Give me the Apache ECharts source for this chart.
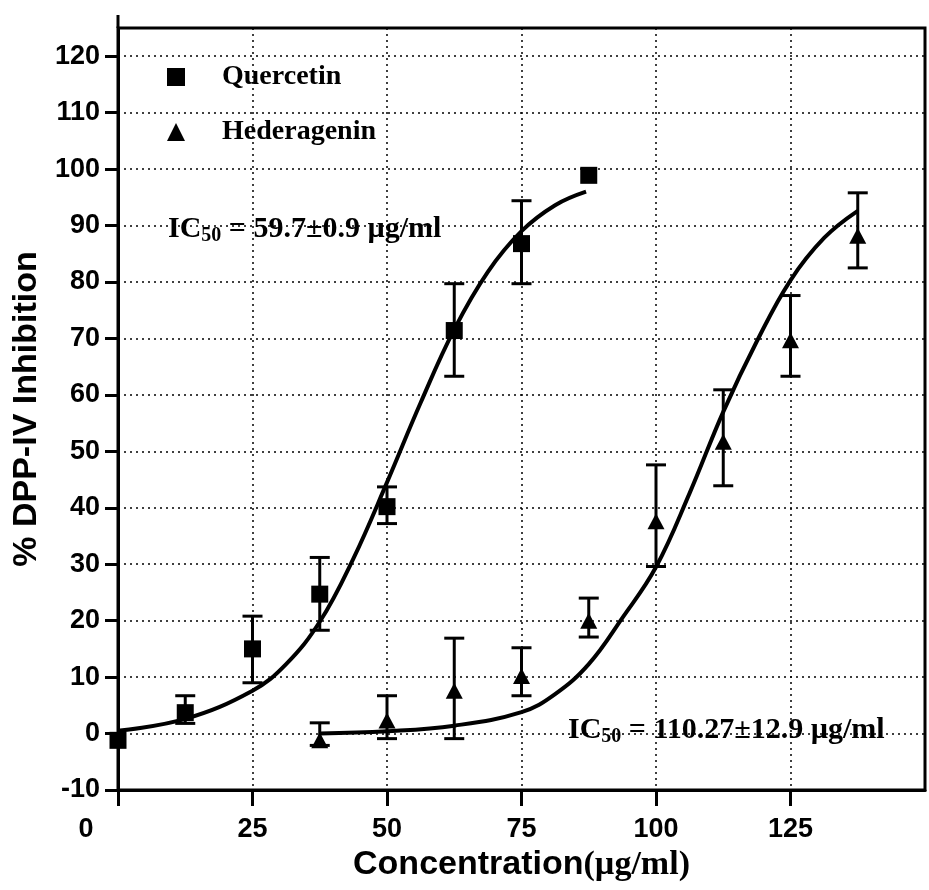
<!DOCTYPE html>
<html lang="en">
<head>
    <meta charset="UTF-8">
    <title>DPP-IV Inhibition</title>
    <script src="https://cdn.jsdelivr.net/npm/echarts@6/dist/echarts.min.js"></script>
    <style>
        html, body { margin: 0; padding: 0; background: #fff; }
        #main { width: 929px; height: 890px; }
    </style>
</head>
<body>
<div id="main"></div>
<script type="text/javascript">
    // tick labels
    var xTicks = [0, 25, 50, 75, 100, 125];
    var yTicks = [-10, 0, 10, 20, 30, 40, 50, 60, 70, 80, 90, 100, 110, 120];

    // measured points (mean, low/high of the error bar)
    var quercetinConc = [0, 12.5, 25, 37.5, 50, 62.5, 75, 87.5];
    var quercetinInhib = [-1.2, 3.7, 15.0, 24.7, 40.2, 71.4, 86.8, 98.9];
    var quercetinLow = [null, 1.8, 9.0, 18.3, 37.2, 63.3, 79.7, null];
    var quercetinHigh = [null, 6.7, 20.8, 31.2, 43.7, 79.7, 94.4, null];

    var hederageninConc = [37.5, 50, 62.5, 75, 87.5, 100, 112.5, 125, 137.5];
    var hederageninInhib = [-1.2, 2.3, 7.6, 10.2, 20.0, 37.6, 51.7, 69.7, 88.2];
    var hederageninLow = [-2.1, -0.9, -0.9, 6.7, 17.1, 29.6, 43.9, 63.3, 82.5];
    var hederageninHigh = [1.9, 6.7, 16.9, 15.2, 24.0, 47.6, 60.9, 77.6, 95.8];

    // fitted curves
    var quercetinFitConc = [0, 12.5, 25, 31.25, 37.5, 43.75, 50, 56.25, 62.5, 68.75, 75, 81.25, 87];
    var quercetinFitInhib = [0.5, 2.6, 7.6, 12.3, 19.8, 31, 44.5, 58.6, 71.6, 81.8, 89, 93.6, 96];
    var hederageninFitConc = [37.5, 50, 62.5, 75, 81.25, 87.5, 93.75, 100, 106.25, 112.5, 118.75, 125, 131.25, 137.5];
    var hederageninFitInhib = [0, 0.4, 1.4, 3.8, 7, 12.3, 20.5, 29.5, 42.6, 57, 69.5, 80.3, 87.8, 92.6];

    var SANS = "'Liberation Sans', Arial, sans-serif";
    var SERIF = "'Liberation Serif', 'Times New Roman', serif";

    function zip(a, b) {
        var out = [];
        for (var i = 0; i < a.length; i++) out.push([a[i], b[i]]);
        return out;
    }

    function errData(conc, low, high) {
        var out = [];
        for (var i = 0; i < conc.length; i++) {
            if (low[i] != null && high[i] != null) out.push([conc[i], low[i], high[i]]);
        }
        return out;
    }

    // vertical error bar with caps
    function renderErr(params, api) {
        var x = api.value(0);
        var top = api.coord([x, api.value(2)]);
        var bot = api.coord([x, api.value(1)]);
        var hw = 10;
        var st = {stroke: '#000', lineWidth: 3};
        return {
            type: 'group',
            children: [
                {type: 'line', shape: {x1: top[0], y1: top[1], x2: bot[0], y2: bot[1]}, style: st},
                {type: 'line', shape: {x1: top[0] - hw, y1: top[1], x2: top[0] + hw, y2: top[1]}, style: st},
                {type: 'line', shape: {x1: bot[0] - hw, y1: bot[1], x2: bot[0] + hw, y2: bot[1]}, style: st}
            ]
        };
    }

    var myChart = echarts.init(document.getElementById('main'));

    var icRich = {
        n: {fontFamily: SERIF, fontWeight: 'bold', fontSize: 30, color: '#000'},
        s: {fontFamily: SERIF, fontWeight: 'bold', fontSize: 20, color: '#000', padding: [14, 0, 0, 0]}
    };

    myChart.setOption({
        backgroundColor: '#ffffff',
        animation: false,
        grid: {
            left: 118, right: 4, top: 28, bottom: 100,
            show: true, borderColor: '#000', borderWidth: 3
        },
        legend: {
            orient: 'vertical',
            left: 162,
            top: 57,
            itemWidth: 18,
            itemHeight: 18,
            itemGap: 25,
            selectedMode: false,
            itemStyle: {color: '#000', opacity: 1},
            textStyle: {
                fontFamily: SERIF, fontWeight: 'bold', fontSize: 28, color: '#000',
                lineHeight: 30, padding: [0, 0, 0, 32]
            },
            data: [
                {name: 'Quercetin', icon: 'rect'},
                {name: 'Hederagenin', icon: 'triangle'}
            ]
        },
        xAxis: {
            type: 'value',
            min: 0,
            max: 150,
            interval: 25,
            axisLine: {show: true, onZero: false, lineStyle: {color: '#000', width: 3}},
            axisTick: {show: true, length: 16, customValues: xTicks, lineStyle: {color: '#000', width: 3}},
            axisLabel: {
                customValues: xTicks,
                margin: 26,
                fontFamily: SANS, fontWeight: 'bold', fontSize: 27, color: '#000',
                formatter: function (v) { return v === 0 ? '{z|0}' : String(v); },
                rich: {z: {fontFamily: SANS, fontWeight: 'bold', fontSize: 27, color: '#000', padding: [0, 64, 0, 0]}}
            },
            splitLine: {show: true, lineStyle: {color: '#000', width: 1.5, type: [2, 4]}},
            name: '{a|Concentration}{b|(µg/ml)}',
            nameLocation: 'middle',
            nameGap: 52,
            nameTextStyle: {
                rich: {
                    a: {fontFamily: SANS, fontWeight: 'bold', fontSize: 34, color: '#000'},
                    b: {fontFamily: SERIF, fontWeight: 'bold', fontSize: 34, color: '#000'}
                }
            }
        },
        yAxis: {
            type: 'value',
            min: -10,
            max: 125,
            interval: 10,
            axisLine: {show: true, onZero: false, lineStyle: {color: '#000', width: 3}},
            axisTick: {show: true, length: 13, customValues: yTicks, lineStyle: {color: '#000', width: 3}},
            axisLabel: {
                customValues: yTicks,
                margin: 18,
                fontFamily: SANS, fontWeight: 'bold', fontSize: 27, color: '#000'
            },
            splitLine: {show: true, lineStyle: {color: '#000', width: 1.5, type: [2, 4]}},
            name: '% DPP-IV Inhibition',
            nameLocation: 'middle',
            nameGap: 72,
            nameTextStyle: {fontFamily: SANS, fontWeight: 'bold', fontSize: 34, color: '#000'}
        },
        series: [
            {
                name: 'Quercetin fit',
                type: 'line',
                data: zip(quercetinFitConc, quercetinFitInhib),
                smooth: 0.4,
                showSymbol: false,
                lineStyle: {color: '#000', width: 4},
                z: 2
            },
            {
                name: 'Hederagenin fit',
                type: 'line',
                data: zip(hederageninFitConc, hederageninFitInhib),
                smooth: 0.4,
                showSymbol: false,
                lineStyle: {color: '#000', width: 4},
                z: 2
            },
            {
                name: 'Quercetin err',
                type: 'custom',
                renderItem: renderErr,
                encode: {x: 0, y: [1, 2]},
                data: errData(quercetinConc, quercetinLow, quercetinHigh),
                z: 3
            },
            {
                name: 'Hederagenin err',
                type: 'custom',
                renderItem: renderErr,
                encode: {x: 0, y: [1, 2]},
                data: errData(hederageninConc, hederageninLow, hederageninHigh),
                z: 3
            },
            {
                name: 'Quercetin',
                type: 'scatter',
                symbol: 'rect',
                symbolSize: 17,
                itemStyle: {color: '#000', opacity: 1},
                data: zip(quercetinConc, quercetinInhib),
                z: 4
            },
            {
                name: 'Hederagenin',
                type: 'scatter',
                symbol: 'triangle',
                symbolSize: [17, 16],
                itemStyle: {color: '#000', opacity: 1},
                data: zip(hederageninConc, hederageninInhib),
                z: 4
            }
        ],
        graphic: [
            {
                id: 'ic1', type: 'text', left: 168, top: 214, z: 10,
                style: {text: '{n|IC}{s|50}{n| = 59.7±0.9 µg/ml}', rich: icRich}
            },
            {
                id: 'ic2', type: 'text', left: 568, top: 715, z: 10,
                style: {text: '{n|IC}{s|50}{n| = 110.27±12.9 µg/ml}', rich: icRich}
            }
        ]
    });

    // left axis line pokes out above the frame
    var topLeft = myChart.convertToPixel({gridIndex: 0}, [0, 125]);
    myChart.setOption({
        graphic: [{
            id: 'axisTop', type: 'line', z: 10,
            shape: {x1: topLeft[0], y1: topLeft[1] - 13, x2: topLeft[0], y2: topLeft[1]},
            style: {stroke: '#000', lineWidth: 3}
        }]
    });

    window.addEventListener("resize", function () {
        myChart.resize();
    });
</script>
</body>
</html>
